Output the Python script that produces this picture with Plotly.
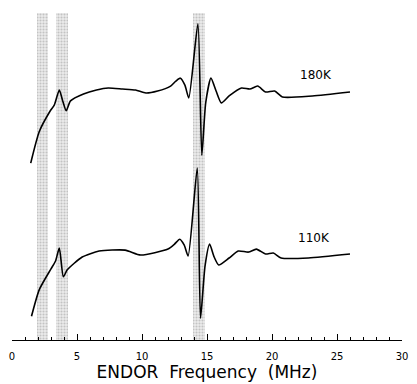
import plotly.graph_objects as go

# ENDOR frequency (MHz) and signal (arbitrary units, offset traces)
freq_180 = [1.44, 2.1, 2.9, 3.26, 3.64, 3.9, 4.17, 4.5, 5.5, 6.5, 7.4, 8.5, 9.5, 10.3, 11.2, 12.2, 12.6, 12.95,
            13.3, 13.6, 14.3, 14.6, 14.9, 15.3, 15.7, 16.1, 16.7, 17.65, 18.3, 18.9, 19.5, 20.2, 20.8, 23.1, 26.0]
sig_180 = [179, 211, 231, 238, 253, 242, 232, 242, 249, 253, 255, 254, 253, 250, 252, 257, 262, 265,
           258, 245, 320, 187, 240, 265, 252, 240, 247, 255, 254, 257, 251, 252, 246, 247, 251]

freq_110 = [1.5, 2.1, 3.0, 3.35, 3.64, 3.95, 4.25, 5.4, 6.7, 8.7, 9.9, 12.0, 12.5, 12.9, 13.25, 13.55, 14.25, 14.5,
            14.85, 15.2, 15.55, 15.9, 16.7, 17.4, 18.2, 18.8, 19.5, 20.1, 20.7, 22.8, 26.0]
sig_110 = [24, 51, 72, 80, 93, 64, 71, 84, 90, 91, 86, 92, 97, 102, 96, 85, 174, 22,
           75, 97, 84, 76, 83, 90, 89, 92, 87, 88, 83, 83, 87]

band_start = [1.9, 3.4, 13.9]
band_end = [2.8, 4.3, 14.85]
band_top = 331

labels = ["180K", "110K"]
label_x = [23.4, 23.2]
label_y = [268, 103]

FONT = "DejaVu Sans, Liberation Sans, Arial"

fig = go.Figure()

fig.add_trace(go.Bar(
    x=[(s + e) / 2 for s, e in zip(band_start, band_end)],
    y=[band_top] * len(band_start),
    width=[e - s for s, e in zip(band_start, band_end)],
    base=0,
    marker=dict(color="#ececec", line=dict(width=0),
                pattern=dict(shape=".", fgcolor="#9a9a9a", bgcolor="#ececec", size=3, solidity=0.4)),
    hoverinfo="skip", showlegend=False,
))

for fx, sy in [(freq_180, sig_180), (freq_110, sig_110)]:
    fig.add_trace(go.Scatter(x=fx, y=sy, mode="lines",
                             line=dict(color="black", width=1.6, shape="spline", smoothing=0.6),
                             showlegend=False))

for t, lx, ly in zip(labels, label_x, label_y):
    fig.add_annotation(x=lx, y=ly, text=t, showarrow=False,
                       font=dict(family=FONT, size=12, color="black"))

fig.update_layout(
    width=417, height=384,
    margin=dict(l=12, r=9, t=10, b=40),
    paper_bgcolor="white", plot_bgcolor="white",
    bargap=0,
    xaxis=dict(range=[0, 30], showgrid=False, zeroline=False,
               showline=True, linecolor="black", linewidth=1.2,
               ticks="inside", ticklen=6, tickwidth=1, tickcolor="black",
               tickvals=[0, 5, 10, 15, 20, 25, 30],
               minor=dict(ticks="inside", ticklen=3, dtick=1, tickcolor="black", showgrid=False),
               ticklabelstandoff=7,
               tickfont=dict(family=FONT, size=10, color="black"),
               title=dict(text="ENDOR  Frequency  (MHz)", standoff=1,
                          font=dict(family=FONT, size=17, color="black"))),
    yaxis=dict(range=[0, 334], visible=False),
)

fig.write_html("out.html")
